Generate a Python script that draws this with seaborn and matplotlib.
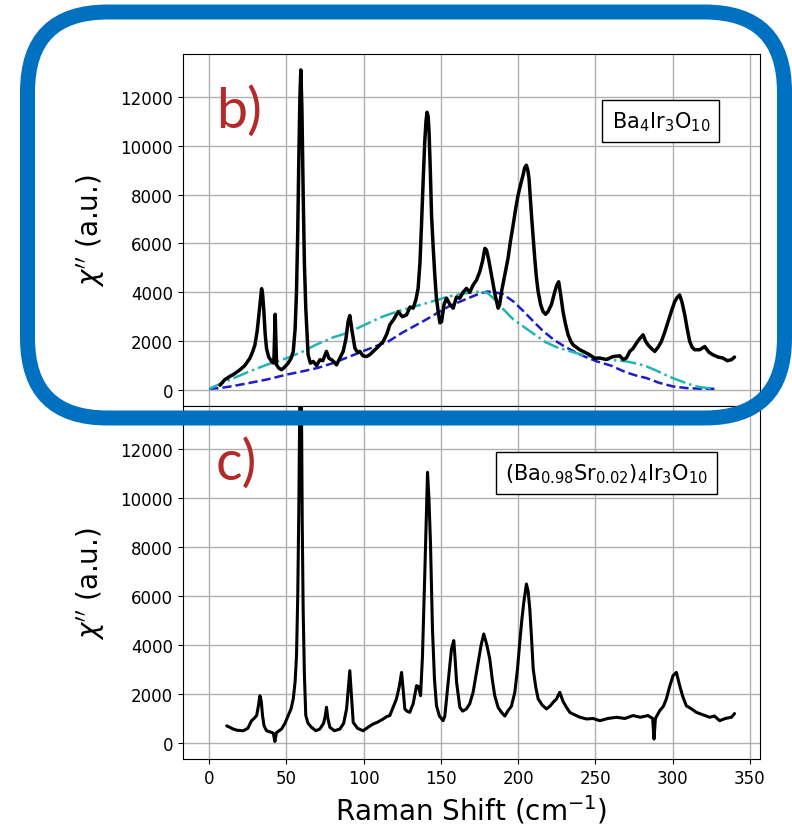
import matplotlib
matplotlib.use("Agg")
import matplotlib.pyplot as plt
from matplotlib.patches import FancyBboxPatch
import seaborn as sns

# panel b) Ba4Ir3O10 spectrum, (Raman shift, chi'')
b_points = [
    (7, 200), (10, 420), (13.4, 560), (16, 650), (19.9, 830), (23, 1000), (26.3, 1300),
    (28, 1550), (29.6, 1850), (31, 2400), (31.7, 2800), (33, 3600), (33.9, 4150),
    (34.6, 3900), (35.4, 3200), (36.2, 2300), (37.1, 1700), (38.5, 1350), (40.4, 1170),
    (41.8, 1100), (42.3, 2200), (42.7, 3100), (43.2, 2000), (43.6, 1030), (45, 900),
    (46.8, 830), (49, 950), (51.1, 1100), (53, 1300), (54.4, 1580), (55.6, 2500),
    (56.5, 4030), (57.3, 6500), (58, 9470), (58.7, 12000), (59.3, 13100), (60, 11500),
    (60.8, 8100), (61.6, 5200), (62.5, 3350), (64, 1440), (65.5, 1100), (67.3, 1170),
    (69.5, 1000), (71.6, 1240), (73.5, 1200), (75.9, 1580), (77.5, 1300), (79.2, 1240),
    (80.8, 1150), (82.4, 1030), (84.5, 1300), (86.7, 1580), (88.5, 2100), (89.9, 2800),
    (91, 3050), (92.5, 2400), (94.3, 1710), (96, 1550), (97.5, 1580), (99.5, 1400),
    (101.8, 1370), (104, 1450), (106.1, 1580), (109, 1750), (112.6, 1990), (115, 2300),
    (116.9, 2670), (119.5, 2900), (122.3, 3210), (125, 3000), (127.7, 3075), (130, 3400),
    (132, 3350), (133.8, 3700), (135.2, 4160), (136.4, 5200), (137.4, 6750), (138.5, 8600),
    (139.5, 10150), (140.3, 11000), (141, 11370), (141.7, 11200), (142.3, 10560),
    (143.1, 9000), (143.9, 7150), (145, 5800), (146, 4710), (147, 3800), (148.2, 3210),
    (149.3, 2750), (150.4, 2800), (152, 3500), (153.6, 3760), (155.8, 3500), (157.9, 3350),
    (160, 3800), (162.2, 3760), (164.3, 4000), (166.5, 4160), (168.6, 4000), (170.8, 4300),
    (173, 4500), (175.1, 4840), (177, 5300), (178.4, 5800), (179.5, 5730), (181, 5300),
    (182.7, 4710), (185, 3900), (187, 3350), (188, 3500), (189.2, 4030), (191.3, 4700),
    (193.4, 5390), (195, 6100), (196.7, 6750), (198.3, 7400), (199.9, 7970), (201.5, 8400),
    (203.1, 8790), (204.2, 9100), (205.3, 9200), (206.2, 9000), (207, 8650), (207.8, 7900),
    (208.6, 7150), (209.7, 6200), (210.7, 5390), (211.8, 4600), (212.9, 4030), (214.5, 3500),
    (216.1, 3210), (217.7, 3100), (219.3, 3210), (221.5, 3500), (223.7, 4030), (225, 4300),
    (226.2, 4430), (227.5, 3900), (229, 3210), (230.6, 2700), (232.3, 2260), (234, 2000),
    (235.5, 1850), (237.6, 1750), (239.8, 1650), (243, 1550), (246.3, 1440), (249.5, 1300),
    (252.8, 1310), (257, 1250), (261.4, 1370), (265.7, 1400), (268, 1250), (270, 1310),
    (272.2, 1580), (274.3, 1700), (276.5, 1920), (278.6, 2100), (280.8, 2260), (282.4, 2000),
    (284, 1850), (286.2, 1700), (288.4, 1580), (290.5, 1750), (292.7, 1990), (295, 2400),
    (297, 2800), (299, 3200), (301.3, 3620), (303, 3800), (304.5, 3890), (306, 3600),
    (307.8, 3075), (309.4, 2500), (311, 1990), (312.6, 1750), (314.2, 1650), (317.5, 1650),
    (320.7, 1780), (323.4, 1550), (326.1, 1440), (329.3, 1350), (332.5, 1310), (335.3, 1200),
    (338, 1240), (340, 1350),
]

# background fit curves for panel b)
fit_blue = [
    (0, 50), (7, 80), (15, 160), (26, 290), (38, 440), (50, 630), (60, 760), (70, 900),
    (80, 1100), (90, 1350), (100, 1600), (110, 1850), (116, 1990), (125, 2350), (140, 2870),
    (155, 3420), (165, 3690), (175, 3950), (180, 4030), (185, 4000), (190, 3930), (197, 3620),
    (203, 3250), (210, 2800), (216, 2420), (223, 2060), (230, 1780), (236, 1580), (243, 1370),
    (251, 1170), (260, 1000), (266, 830), (270, 720), (276, 600), (283, 490), (291, 300),
    (300, 150), (309, 80), (318, 55), (327, 50),
]
fit_cyan = [
    (0, 50), (8, 280), (16, 490), (26, 760), (37, 1030), (50, 1300), (60, 1560), (69, 1850),
    (80, 2150), (90, 2350), (100, 2650), (112, 3000), (122, 3220), (133, 3420), (144, 3620),
    (155, 3830), (165, 3950), (172, 4020), (176, 4030), (180, 3980), (185, 3700), (190, 3330),
    (197, 2880), (208, 2390), (218, 1950), (225, 1750), (234, 1580), (242, 1430), (251, 1310),
    (260, 1240), (266, 1200), (270, 1170), (277, 1080), (283, 970), (290, 780), (296, 600),
    (300, 490), (308, 300), (315, 150), (320, 100), (326, 60),
]

# panel c) (Ba0.98Sr0.02)4Ir3O10 spectrum
c_points = [
    (11.3, 700), (13, 650), (15.5, 570), (18, 520), (22, 500), (25, 600), (27.4, 910),
    (29, 1000), (30.7, 1120), (31.8, 1500), (32.8, 1930), (33.7, 1700), (34.5, 1120),
    (35.5, 700), (37.1, 500), (39.5, 450), (41.5, 400), (42.5, 60), (43.5, 420), (46.8, 570),
    (49, 800), (51.1, 1120), (53, 1400), (54.4, 1800), (55.6, 2500), (56.5, 3560),
    (57.3, 6000), (58, 9550), (58.6, 14000), (59.1, 17500), (59.7, 14000), (60.2, 9000),
    (60.8, 5470), (61.6, 2800), (62.5, 1120), (64, 800), (66.2, 640), (69, 500), (71.6, 570),
    (74, 800), (75.1, 1100), (75.9, 1460), (76.8, 1000), (78.1, 640), (81, 500), (84.6, 570),
    (87, 800), (88.9, 1390), (90, 2200), (91, 2950), (92, 2000), (93.2, 840), (96, 600),
    (99.6, 500), (103, 650), (106.1, 775), (109, 850), (112.6, 980), (115, 1080),
    (116.9, 1120), (119, 1450), (121.2, 1800), (123, 2300), (124.5, 2880), (125.5, 2200),
    (126.6, 1390), (128, 1300), (129.8, 1250), (132, 1600), (134.2, 2340), (135.5, 2300),
    (136.8, 1930), (138, 3500), (139.5, 6830), (140.6, 9500), (141.3, 11050), (142.2, 10000),
    (143.2, 8190), (144.5, 4650), (145.8, 2600), (147.1, 1520), (149, 1100), (151.4, 910),
    (152.5, 1100), (153.6, 1800), (155.2, 2800), (156.8, 3840), (158.3, 4180), (159.2, 3400),
    (160.1, 2480), (162.2, 1460), (164, 1300), (166.5, 1390), (168.6, 1600), (170.8, 2070),
    (172.5, 2700), (174.1, 3290), (176, 4000), (177.7, 4450), (179.7, 4000), (181.6, 3430),
    (183.2, 2600), (184.8, 1930), (187, 1450), (189.2, 1250), (191.3, 1100), (193.4, 1320),
    (195.6, 1500), (197.8, 2070), (199.5, 3000), (201, 4110), (202.3, 5000), (203.6, 5740),
    (205.3, 6490), (206.4, 6200), (207.5, 5470), (208.6, 4300), (209.7, 3020), (211.3, 2300),
    (212.9, 1800), (215.5, 1550), (218.3, 1390), (220.5, 1500), (222.6, 1660), (224.8, 1800),
    (226.9, 2070), (229, 1700), (231.2, 1460), (233.4, 1250), (235.5, 1180), (240, 1050),
    (244.2, 980), (248.5, 1000), (252.8, 910), (258, 1000), (263.6, 1050), (269, 1000),
    (274.3, 1120), (279, 1050), (284, 1120), (287, 1000), (287.9, 160), (288.8, 1000),
    (291.6, 1320), (294, 1500), (295.9, 1800), (298, 2300), (300.2, 2750), (302.4, 2880),
    (304.5, 2340), (306.5, 1900), (308.8, 1520), (312, 1400), (315.3, 1250), (319.5, 1150),
    (323.9, 1050), (327, 1100), (330.4, 910), (334, 1000), (338, 1050), (340, 1200),
]

b_shift, b_chi = zip(*b_points)
blue_shift, blue_chi = zip(*fit_blue)
cyan_shift, cyan_chi = zip(*fit_cyan)
c_shift, c_chi = zip(*c_points)

x_ticks = [0, 50, 100, 150, 200, 250, 300, 350]
y_ticks = [0, 2000, 4000, 6000, 8000, 10000, 12000]
panel_tags = ["b)", "c)"]
sample_names = [r"Ba$_4$Ir$_3$O$_{10}$", r"(Ba$_{0.98}$Sr$_{0.02}$)$_4$Ir$_3$O$_{10}$"]

sns.set_style("ticks", {"axes.grid": True, "grid.color": "#b0b0b0",
                        "axes.edgecolor": "black", "xtick.color": "black",
                        "ytick.color": "black", "text.color": "black",
                        "axes.labelcolor": "black"})
plt.rcParams["font.family"] = ["DejaVu Sans"]

fig = plt.figure(figsize=(7.92, 8.29), dpi=100)
ax_b = fig.add_axes([0.231, 0.509, 0.7286, 0.4247])
ax_c = fig.add_axes([0.231, 0.0832, 0.7286, 0.4258], sharex=ax_b)

sns.lineplot(x=list(blue_shift), y=list(blue_chi), ax=ax_b, color="#1c1cc8",
             lw=1.8, linestyle="--", sort=False, estimator=None, zorder=3)
sns.lineplot(x=list(cyan_shift), y=list(cyan_chi), ax=ax_b, color="#22b4b4",
             lw=1.8, linestyle="-.", sort=False, estimator=None, zorder=3)
sns.lineplot(x=list(b_shift), y=list(b_chi), ax=ax_b, color="black", lw=2.5,
             sort=False, estimator=None, zorder=4)
sns.lineplot(x=list(c_shift), y=list(c_chi), ax=ax_c, color="black", lw=2.2,
             sort=False, estimator=None, zorder=4)

for ax, tag, name, nx in zip([ax_b, ax_c], panel_tags, sample_names, [0.828, 0.734]):
    ax.set_xlim(-17, 356.5)
    ax.set_ylim(-655, 13755)
    ax.set_xticks(x_ticks)
    ax.set_yticks(y_ticks)
    ax.grid(True, color="#b0b0b0", lw=1)
    ax.tick_params(labelsize=12)
    for s in ax.spines.values():
        s.set_color("black")
    ax.set_ylabel(r"$\chi''$ (a.u.)", fontsize=20, labelpad=10)
    ax.text(0.057, 0.793, tag, transform=ax.transAxes, fontsize=40,
            family="Lato", color="#b22a2a", va="baseline", ha="left")
    ax.text(nx, 0.81, name, transform=ax.transAxes, fontsize=15, ha="center",
            va="center", zorder=6,
            bbox=dict(boxstyle="square,pad=0.45", fc="white", ec="black", lw=1))

ax_b.tick_params(labelbottom=False)
ax_b.set_xlabel("")
ax_c.set_xlabel(r"Raman Shift (cm$^{-1}$)", fontsize=20)

# highlight frame around panel b)
frame = FancyBboxPatch((0.275, 4.10), 7.57, 4.06,
                       boxstyle="round,pad=0,rounding_size=0.8",
                       transform=fig.dpi_scale_trans, fill=False,
                       ec="#0070C0", lw=10.8, zorder=10)
fig.add_artist(frame)

fig.savefig("out.png", dpi=100)
